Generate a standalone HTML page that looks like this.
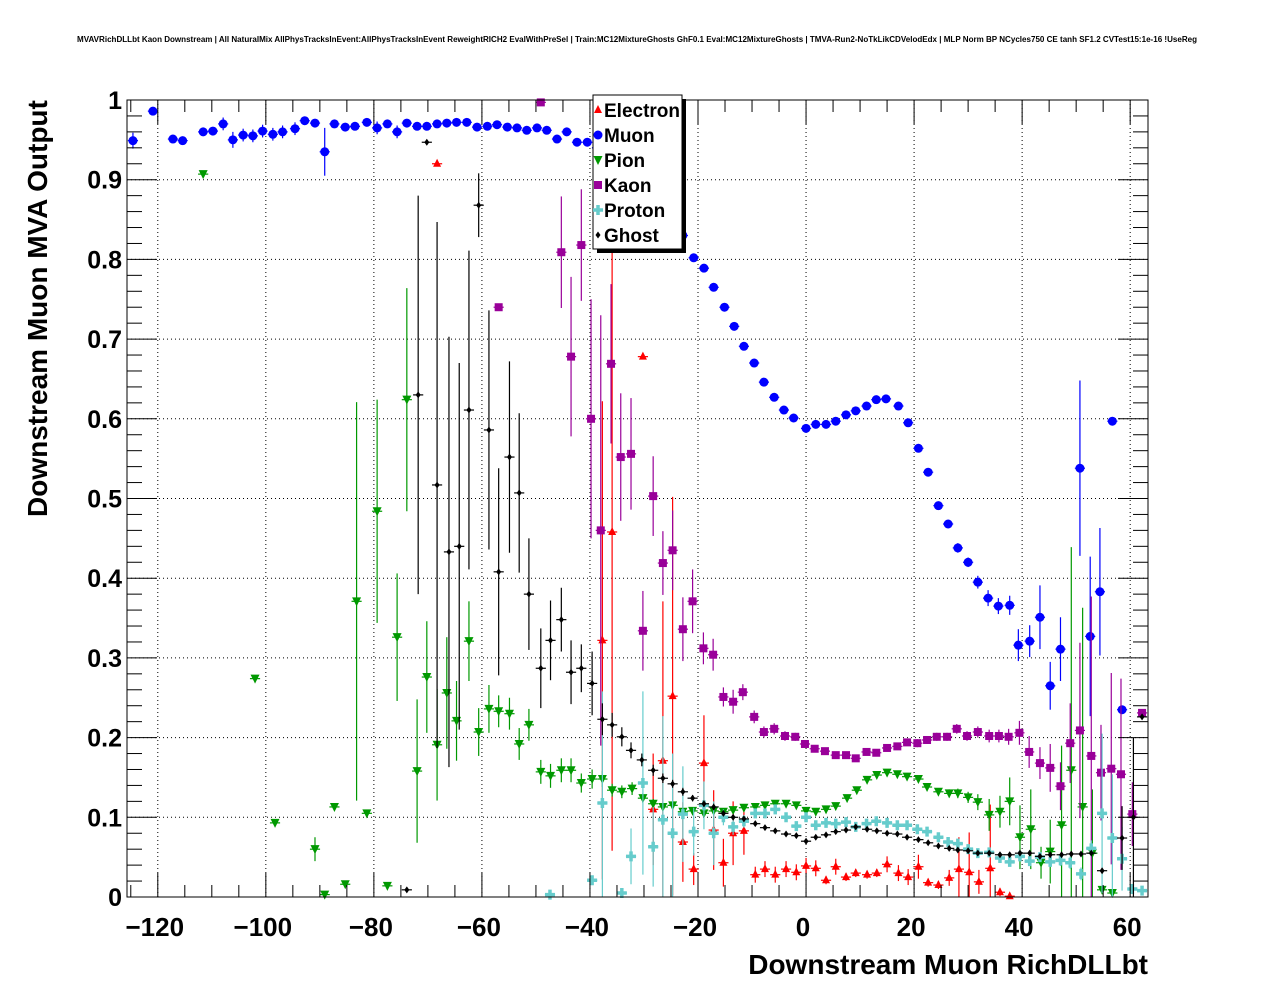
<!DOCTYPE html>
<html><head><meta charset="utf-8"><style>
html,body{margin:0;padding:0;background:#fff;}
svg{display:block;font-family:"Liberation Sans",sans-serif;}
</style></head><body>
<svg id="chart" width="1276" height="996" viewBox="0 0 1276 996" xmlns="http://www.w3.org/2000/svg">
<rect x="0" y="0" width="1276" height="996" fill="#fff"/>
<text x="637" y="42" text-anchor="middle" font-size="8" font-weight="bold" textLength="1120" lengthAdjust="spacingAndGlyphs">MVAVRichDLLbt Kaon Downstream | All NaturalMix AllPhysTracksInEvent:AllPhysTracksInEvent ReweightRICH2 EvalWithPreSel | Train:MC12MixtureGhosts GhF0.1 Eval:MC12MixtureGhosts | TMVA-Run2-NoTkLikCDVelodEdx | MLP Norm BP NCycles750 CE tanh SF1.2 CVTest15:1e-16 !UseReg</text>
<g id="grid"></g>
<g id="marks"></g>
<rect x="127" y="100" width="1021" height="797" fill="none" stroke="#000" stroke-width="1"/>
<g id="ticks"></g>
<text transform="translate(47,517) rotate(-90)" font-size="28" font-weight="bold" text-anchor="start">Downstream Muon MVA Output</text>
<text x="1148" y="974" font-size="28" font-weight="bold" text-anchor="end">Downstream Muon RichDLLbt</text>
<g>
<rect x="597" y="99" width="89" height="154" fill="#000"/>
<rect x="593" y="95" width="89" height="154" fill="#fff" stroke="#000" stroke-width="1"/>
<g id="legend"></g>
</g>
</svg>
<script>
const xMin=-125.7, xMax=63.3, yMin=0, yMax=1;
const L=127,R=1148,T=100,B=897;
function sx(v){return L+(v-xMin)/(xMax-xMin)*(R-L);}
function sy(v){return B-(v-yMin)/(yMax-yMin)*(B-T);}
const xTicks=[-120,-100,-80,-60,-40,-20,0,20,40,60];
const xTickLabels=["\u2212120","\u2212100","\u221280","\u221260","\u221240","\u221220","0","20","40","60"];
const yTicks=[0,0.1,0.2,0.3,0.4,0.5,0.6,0.7,0.8,0.9,1];
const yTickLabels=["0","0.1","0.2","0.3","0.4","0.5","0.6","0.7","0.8","0.9","1"];
const seriesNames=["Electron","Muon","Pion","Kaon","Proton","Ghost"];
const seriesColors=["#ff0000","#0000ff","#009900","#990099","#66cccc","#000000"];
// [x, y, yerr]
const electron=[[-68.3,0.920,0.003],[-30.2,0.678,0.003],[-37.7,0.322,0.3],[-35.9,0.458,0.4],[-28.3,0.110,0.07],[-26.5,0.171,0.2],[-24.7,0.252,0.25],[-22.8,0.069,0.05],[-20.8,0.035,0.02],[-18.9,0.168,0.06],[-17.1,0.084,0.05],[-15.3,0.043,0.03],[-13.5,0.080,0.04],[-11.5,0.083,0.03],[-9.4,0.028,0.01],[-7.6,0.035,0.01],[-5.7,0.028,0.01],[-3.7,0.035,0.01],[-1.8,0.031,0.01],[0,0.039,0.01],[1.8,0.036,0.01],[3.7,0.021,0.005],[5.5,0.038,0.01],[7.4,0.025,0.005],[9.2,0.030,0.005],[11.3,0.028,0.005],[13.1,0.030,0.005],[15.0,0.041,0.01],[17.1,0.030,0.01],[18.9,0.025,0.01],[20.8,0.038,0.015],[22.6,0.018,0.005],[24.5,0.015,0.005],[26.5,0.024,0.01],[28.3,0.035,0.04],[30.2,0.031,0.05],[32.0,0.019,0.015],[34.1,0.036,0.08],[35.9,0.006,0.005],[37.7,0.001,0.002]];
const muon=[[-124.6,0.949,0.01],[-120.9,0.986,0.003],[-117.2,0.951,0.003],[-115.4,0.949,0.003],[-111.6,0.960,0.005],[-109.8,0.961,0.005],[-107.9,0.970,0.008],[-106.1,0.950,0.01],[-104.2,0.956,0.008],[-102.4,0.955,0.008],[-100.6,0.961,0.008],[-98.7,0.957,0.008],[-96.9,0.960,0.008],[-94.6,0.964,0.008],[-92.8,0.974,0.005],[-90.9,0.971,0.005],[-89.1,0.935,0.03],[-87.3,0.970,0.005],[-85.3,0.966,0.005],[-83.5,0.967,0.005],[-81.3,0.972,0.005],[-79.4,0.965,0.008],[-77.5,0.970,0.005],[-75.7,0.960,0.008],[-73.9,0.971,0.005],[-72.0,0.967,0.005],[-70.2,0.967,0.005],[-68.3,0.970,0.005],[-66.5,0.971,0.005],[-64.7,0.972,0.005],[-62.8,0.972,0.005],[-60.9,0.966,0.005],[-59.0,0.967,0.005],[-57.2,0.969,0.005],[-55.3,0.966,0.005],[-53.5,0.965,0.005],[-51.7,0.962,0.005],[-49.8,0.965,0.005],[-48.0,0.962,0.005],[-46.1,0.951,0.005],[-44.3,0.960,0.005],[-42.4,0.947,0.005],[-40.5,0.947,0.005],[-38.7,0.940,0.005],[-36.8,0.935,0.005],[-35.0,0.925,0.005],[-22.8,0.830,0.005],[-20.8,0.802,0.004],[-18.9,0.789,0.004],[-17.1,0.765,0.004],[-15.1,0.740,0.004],[-13.3,0.716,0.004],[-11.5,0.691,0.004],[-9.6,0.670,0.004],[-7.8,0.646,0.004],[-5.9,0.627,0.004],[-4.1,0.611,0.004],[-2.3,0.601,0.004],[0,0.588,0.004],[1.8,0.593,0.004],[3.7,0.593,0.004],[5.5,0.597,0.004],[7.4,0.605,0.004],[9.2,0.610,0.004],[11.2,0.616,0.004],[13.0,0.624,0.004],[14.8,0.625,0.004],[17.1,0.616,0.004],[18.9,0.595,0.004],[20.8,0.563,0.005],[22.6,0.533,0.005],[24.5,0.491,0.005],[26.3,0.468,0.005],[28.1,0.438,0.006],[30.0,0.420,0.006],[31.8,0.395,0.008],[33.7,0.375,0.01],[35.6,0.365,0.01],[37.7,0.366,0.012],[39.3,0.316,0.02],[41.4,0.321,0.02],[43.3,0.351,0.04],[45.2,0.265,0.03],[47.1,0.311,0.04],[50.7,0.538,0.11],[52.6,0.327,0.1],[54.4,0.383,0.08],[56.7,0.597,0.003],[58.5,0.235,0.003]];
const pion=[[-111.6,0.907,0.003],[-102.0,0.274,0.003],[-98.3,0.093,0.003],[-90.9,0.060,0.015],[-89.1,0.003,0.002],[-87.3,0.113,0.003],[-85.3,0.016,0.003],[-83.2,0.371,0.25],[-81.3,0.105,0.003],[-79.4,0.484,0.14],[-77.5,0.014,0.003],[-75.7,0.326,0.08],[-73.9,0.624,0.14],[-72.0,0.158,0.09],[-70.2,0.276,0.07],[-68.3,0.191,0.07],[-66.5,0.256,0.07],[-64.7,0.221,0.05],[-62.4,0.321,0.05],[-60.6,0.207,0.03],[-58.7,0.236,0.03],[-56.9,0.233,0.02],[-54.9,0.230,0.02],[-53.1,0.192,0.02],[-51.3,0.216,0.02],[-49.1,0.157,0.015],[-47.3,0.152,0.015],[-45.3,0.159,0.015],[-43.5,0.159,0.015],[-41.6,0.143,0.012],[-39.6,0.148,0.012],[-37.7,0.148,0.01],[-35.9,0.134,0.008],[-34.1,0.132,0.008],[-32.2,0.136,0.008],[-30.2,0.124,0.006],[-28.3,0.117,0.006],[-26.5,0.113,0.005],[-24.7,0.115,0.005],[-22.8,0.107,0.004],[-21.0,0.108,0.004],[-18.9,0.105,0.004],[-17.1,0.108,0.003],[-15.3,0.107,0.003],[-13.5,0.109,0.003],[-11.5,0.112,0.003],[-9.4,0.113,0.003],[-7.6,0.115,0.003],[-5.7,0.117,0.003],[-3.7,0.117,0.003],[-1.8,0.115,0.003],[0,0.108,0.003],[1.8,0.107,0.003],[3.7,0.110,0.003],[5.5,0.114,0.003],[7.6,0.124,0.003],[9.4,0.134,0.003],[11.3,0.147,0.003],[13.1,0.153,0.003],[15.0,0.156,0.003],[16.9,0.154,0.003],[18.7,0.151,0.003],[20.8,0.148,0.003],[22.4,0.138,0.004],[24.5,0.132,0.004],[26.5,0.130,0.005],[28.1,0.130,0.006],[30.0,0.125,0.007],[31.8,0.119,0.01],[33.9,0.103,0.02],[35.9,0.107,0.02],[37.7,0.120,0.03],[39.6,0.075,0.04],[41.6,0.085,0.05],[43.5,0.043,0.02],[45.2,0.057,0.04],[47.3,0.090,0.1],[49.1,0.159,0.28],[51.2,0.113,0.25],[53.0,0.055,0.08],[54.8,0.009,0.003],[56.7,0.005,0.003]];
const kaon=[[-49.1,0.997,0.003],[-56.9,0.740,0.003],[-45.3,0.809,0.07],[-43.5,0.678,0.1],[-41.6,0.818,0.07],[-39.8,0.600,0.15],[-38.0,0.460,0.27],[-36.1,0.669,0.1],[-34.3,0.552,0.08],[-32.4,0.556,0.07],[-30.2,0.334,0.05],[-28.3,0.503,0.05],[-26.5,0.419,0.04],[-24.7,0.435,0.05],[-22.8,0.336,0.04],[-21.0,0.371,0.04],[-19.0,0.312,0.02],[-17.2,0.304,0.02],[-15.3,0.251,0.012],[-13.5,0.245,0.015],[-11.7,0.257,0.01],[-9.6,0.226,0.008],[-7.8,0.207,0.007],[-5.9,0.211,0.007],[-3.9,0.202,0.006],[-2.0,0.201,0.005],[-0.2,0.192,0.004],[1.6,0.186,0.004],[3.5,0.183,0.004],[5.5,0.178,0.004],[7.4,0.178,0.004],[9.2,0.174,0.004],[11.2,0.182,0.004],[13.0,0.181,0.004],[15.0,0.187,0.004],[16.9,0.189,0.004],[18.7,0.194,0.004],[20.6,0.193,0.005],[22.4,0.197,0.005],[24.2,0.201,0.005],[26.1,0.201,0.005],[27.9,0.211,0.006],[29.8,0.202,0.006],[31.8,0.207,0.007],[33.9,0.202,0.008],[35.7,0.202,0.008],[37.5,0.201,0.01],[39.5,0.206,0.015],[41.3,0.182,0.02],[43.3,0.168,0.02],[45.2,0.162,0.03],[47.1,0.139,0.03],[48.9,0.193,0.05],[50.7,0.209,0.11],[52.8,0.177,0.2],[54.6,0.156,0.06],[56.5,0.161,0.12],[58.3,0.154,0.12],[60.4,0.104,0.04],[62.2,0.231,0.003]];
const proton=[[-47.4,0.003,0.002],[-39.6,0.021,0.003],[-34.1,0.005,0.003],[-37.7,0.118,0.14],[-32.4,0.051,0.035],[-30.2,0.143,0.115],[-28.3,0.063,0.05],[-26.5,0.097,0.13],[-24.7,0.080,0.1],[-22.8,0.104,0.06],[-20.8,0.082,0.03],[-18.9,0.115,0.03],[-17.1,0.080,0.04],[-15.3,0.100,0.01],[-13.5,0.088,0.01],[-11.5,0.095,0.008],[-9.4,0.105,0.006],[-7.6,0.105,0.005],[-5.7,0.110,0.005],[-3.7,0.100,0.004],[-1.8,0.089,0.004],[0,0.100,0.004],[1.8,0.090,0.004],[3.7,0.093,0.004],[5.5,0.092,0.004],[7.4,0.094,0.004],[9.2,0.088,0.004],[11.2,0.092,0.004],[13.0,0.095,0.004],[15.0,0.093,0.004],[16.9,0.090,0.004],[18.7,0.090,0.004],[20.6,0.085,0.004],[22.4,0.082,0.004],[24.5,0.075,0.004],[26.3,0.069,0.004],[28.1,0.067,0.004],[30.0,0.060,0.004],[31.8,0.055,0.004],[33.9,0.056,0.004],[35.9,0.049,0.004],[37.7,0.044,0.004],[39.6,0.051,0.005],[41.4,0.045,0.005],[43.3,0.050,0.006],[45.2,0.044,0.006],[47.1,0.046,0.007],[48.9,0.043,0.008],[50.9,0.029,0.008],[52.8,0.061,0.01],[54.8,0.105,0.1],[56.7,0.074,0.08],[58.5,0.048,0.04],[60.4,0.010,0.003],[62.2,0.008,0.003]];
const ghost=[[-73.9,0.009,0.002],[-70.2,0.947,0.003],[-71.8,0.630,0.25],[-68.3,0.517,0.33],[-66.1,0.433,0.27],[-64.2,0.440,0.23],[-62.4,0.611,0.2],[-60.6,0.868,0.04],[-58.7,0.586,0.15],[-56.9,0.408,0.13],[-54.9,0.552,0.12],[-53.1,0.507,0.1],[-51.3,0.380,0.07],[-49.1,0.287,0.05],[-47.3,0.322,0.05],[-45.3,0.348,0.04],[-43.5,0.282,0.04],[-41.6,0.287,0.03],[-39.6,0.268,0.04],[-37.7,0.223,0.02],[-35.9,0.216,0.015],[-34.1,0.201,0.012],[-32.4,0.184,0.01],[-30.4,0.172,0.008],[-28.3,0.159,0.007],[-26.5,0.149,0.006],[-24.7,0.142,0.005],[-22.8,0.132,0.005],[-21.0,0.124,0.004],[-18.9,0.117,0.004],[-17.1,0.113,0.004],[-15.3,0.105,0.003],[-13.5,0.100,0.003],[-11.5,0.098,0.003],[-9.4,0.092,0.003],[-7.6,0.087,0.003],[-5.7,0.083,0.003],[-3.7,0.079,0.003],[-1.8,0.077,0.003],[0,0.070,0.003],[1.8,0.075,0.003],[3.7,0.078,0.003],[5.5,0.082,0.003],[7.4,0.084,0.003],[9.2,0.088,0.003],[11.3,0.085,0.003],[13.1,0.083,0.003],[15.0,0.080,0.003],[16.9,0.079,0.003],[18.7,0.075,0.003],[20.8,0.072,0.003],[22.6,0.068,0.003],[24.5,0.064,0.003],[26.5,0.061,0.003],[28.1,0.059,0.003],[30.0,0.058,0.003],[31.8,0.055,0.003],[33.9,0.055,0.003],[35.9,0.053,0.003],[37.7,0.053,0.003],[39.6,0.055,0.003],[41.4,0.055,0.003],[43.3,0.051,0.003],[45.2,0.053,0.003],[47.3,0.053,0.003],[49.1,0.054,0.003],[50.9,0.054,0.003],[52.8,0.055,0.003],[54.8,0.033,0.003],[58.5,0.074,0.04],[60.6,0.100,0.1],[62.2,0.226,0.003]];
const seriesData=[electron,muon,pion,kaon,proton,ghost];

const NS="http://www.w3.org/2000/svg";
function mk(tag,attrs,parent){const e=document.createElementNS(NS,tag);for(const k in attrs)e.setAttribute(k,attrs[k]);parent.appendChild(e);return e;}
const grid=document.getElementById('grid'), ticks=document.getElementById('ticks'), marks=document.getElementById('marks'), legend=document.getElementById('legend');

xTicks.forEach((v,i)=>{
  const g=mk('line',{x1:sx(v),x2:sx(v),y1:T,y2:B,stroke:'#000','stroke-width':1,'stroke-dasharray':'1,3'},grid);
  
  
  const t=mk('text',{x:sx(v)-3,y:936,'text-anchor':'middle','font-size':26,'font-weight':'bold'},ticks);
  t.textContent=xTickLabels[i];
  
  
});
for(let v=-125;v<=60;v+=5){
  const maj=(v%20===0);const len=maj?24:12;
  mk('line',{x1:sx(v),x2:sx(v),y1:B,y2:B-len,stroke:'#000','stroke-width':1},ticks);
  mk('line',{x1:sx(v),x2:sx(v),y1:T,y2:T+len,stroke:'#000','stroke-width':1},ticks);
}
yTicks.forEach((v,i)=>{
  if(v>0&&v<1){
    const g=mk('line',{x1:L,x2:R,y1:sy(v),y2:sy(v),stroke:'#000','stroke-width':1,'stroke-dasharray':'1,3'},grid);
    
    
  }
  const t=mk('text',{x:122,y:sy(v)+9,'text-anchor':'end','font-size':25,'font-weight':'bold'},ticks);
  t.textContent=yTickLabels[i];
  
  
});
for(let k=0;k<=50;k++){
  const v=k*0.02;const maj=(k%5===0);const len=maj?30:15;
  mk('line',{x1:L,x2:L+len,y1:sy(v),y2:sy(v),stroke:'#000','stroke-width':1},ticks);
  mk('line',{x1:R,x2:R-len,y1:sy(v),y2:sy(v),stroke:'#000','stroke-width':1},ticks);
}

function marker(type,cx,cy,color,parent){
  if(type===0) return mk('polygon',{points:`${cx},${cy-5} ${cx-4},${cy+3} ${cx+4},${cy+3}`,fill:color},parent);
  if(type===1) return mk('circle',{cx:cx,cy:cy,r:4.5,fill:color},parent);
  if(type===2) return mk('polygon',{points:`${cx-4.5},${cy-4} ${cx+4.5},${cy-4} ${cx},${cy+5}`,fill:color},parent);
  if(type===3) return mk('rect',{x:cx-4,y:cy-4,width:8,height:8,fill:color},parent);
  if(type===4) return mk('path',{d:`M${cx-5},${cy}H${cx+5}M${cx},${cy-5}V${cy+5}`,stroke:color,'stroke-width':3.5,fill:'none'},parent);
  return mk('polygon',{points:`${cx},${cy-3.5} ${cx+2.5},${cy} ${cx},${cy+3.5} ${cx-2.5},${cy}`,fill:color},parent);
}
const clipY=v=>Math.max(T,Math.min(B,sy(v)));
seriesData.forEach((data,si)=>{
  const col=seriesColors[si];
  const g=mk('g',{},marks);
  
  
  data.forEach(d=>{
    const cx=sx(d[0]),cy=sy(d[1]);
    if(cx<L||cx>R) return;
    mk('line',{x1:cx,x2:cx,y1:clipY(d[1]+d[2]),y2:clipY(d[1]-d[2]),stroke:col,'stroke-width':1.2},g);
    mk('line',{x1:sx(d[0]-0.94),x2:sx(d[0]+0.94),y1:cy,y2:cy,stroke:col,'stroke-width':1.2},g);
    const m=marker(si,cx,cy,col,g);
    
    
  });
});
seriesNames.forEach((n,i)=>{
  const y=110+25*i;
  const g=mk('g',{},legend);
  
  
  marker(i,598,y,seriesColors[i],g);
  const t=mk('text',{x:604,y:y+7,'font-size':19,'font-weight':'bold'},g);
  t.textContent=n;
});
</script>
</body></html>
